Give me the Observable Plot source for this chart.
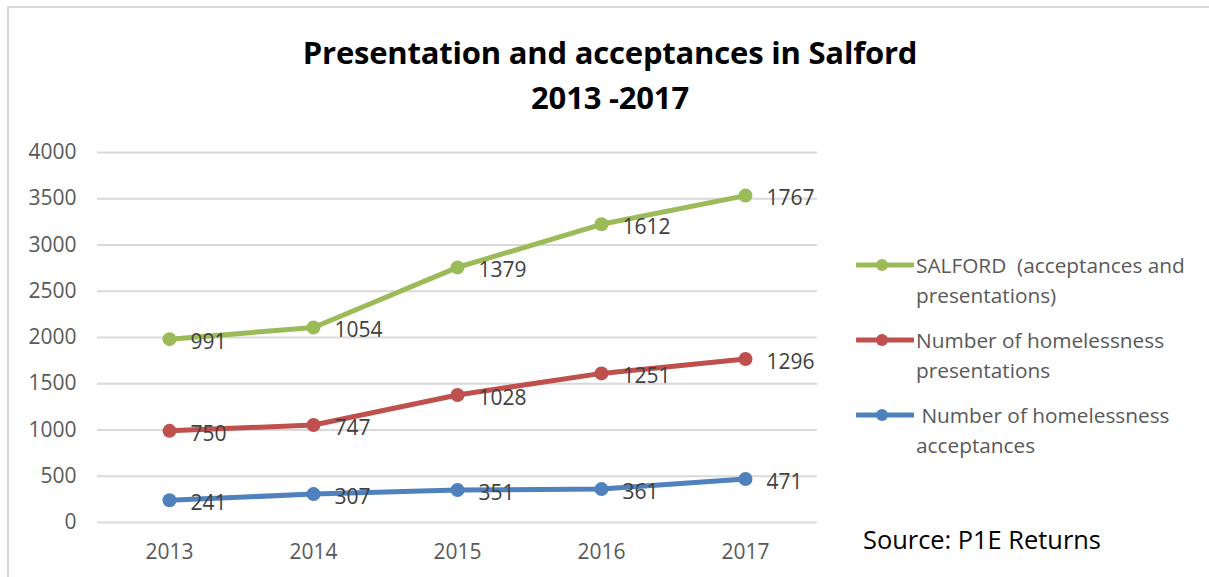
<!DOCTYPE html>
<html>
<head>
<meta charset="utf-8">
<script src="https://cdn.jsdelivr.net/npm/d3@7"></script>
<script src="https://cdn.jsdelivr.net/npm/@observablehq/plot@0.6"></script>
<style>
  html, body { margin: 0; padding: 0; background: #fff; }
  #wrap { position: relative; width: 1209px; height: 577px; overflow: hidden; background: #fff; }
  #frame { position: absolute; left: 7px; top: 6px; width: 1300px; height: 700px; border-left: 2px solid #d9d9d9; border-top: 2px solid #d9d9d9; }
  #title { position: absolute; left: 0; width: 1220px; top: 30px; text-align: center; font-family: "Open Sans", sans-serif; font-weight: bold; font-size: 31px; line-height: 45px; color: #000; letter-spacing: -0.2px; }
  #chart { position: absolute; left: 0; top: 130px; }
  #legend { position: absolute; left: 856px; top: 250px; font-family: "Open Sans", sans-serif; font-size: 20.8px; color: #595959; }
  .item { position: relative; padding-left: 60px; line-height: 30px; margin-bottom: 15px; white-space: nowrap; }
  .item svg { position: absolute; left: 0; top: 6px; }
  #source { position: absolute; left: 863px; top: 522px; font-family: "Open Sans", sans-serif; font-size: 25.4px; color: #000; }
</style>
</head>
<body>
<div id="wrap">
  <div id="frame"></div>
  <div id="title">Presentation and acceptances in Salford<br>2013 -2017</div>
  <div id="chart"></div>
  <div id="legend"></div>
  <div id="source">Source: P1E Returns</div>
</div>
<script>
const years = ["2013", "2014", "2015", "2016", "2017"];
const seriesNames = [
  "Number of homelessness acceptances",
  "Number of homelessness presentations",
  "SALFORD  (acceptances and presentations)"
];
const acceptances = [241, 307, 351, 361, 471];
const presentations = [750, 747, 1028, 1251, 1296];
const salford = [991, 1054, 1379, 1612, 1767];
const colors = ["#4F81BD", "#C0504D", "#9BBB59"];
const yTicks = [0, 500, 1000, 1500, 2000, 2500, 3000, 3500, 4000];

const seriesValues = [acceptances, presentations, salford];
const data = [];
seriesNames.forEach((name, i) => {
  years.forEach((yr, j) => data.push({ year: yr, series: name, value: seriesValues[i][j] }));
});

const font = "Open Sans, sans-serif";
const chart = Plot.plot({
  width: 840,
  height: 440,
  marginLeft: 97,
  marginRight: 23,
  marginTop: 22,
  marginBottom: 48,
  style: { fontFamily: font, fontSize: "21px", color: "#595959", background: "transparent" },
  x: { type: "point", domain: years, padding: 0.5, label: null },
  y: { domain: [0, 4000], label: null },
  color: { domain: seriesNames, range: colors },
  marks: [
    Plot.ruleY(yTicks, { stroke: "#d9d9d9", strokeWidth: 2 }),
    Plot.axisY({ ticks: yTicks, tickFormat: d => String(d), tickSize: 0, tickPadding: 21, label: null, fill: "#595959", fontSize: 21 }),
    Plot.axisX({ tickSize: 0, tickPadding: 22, label: null, fill: "#595959", fontSize: 21 }),
    Plot.lineY(data, Plot.stackY2({ x: "year", y: "value", z: "series", stroke: "series", strokeWidth: 5, order: null })),
    Plot.dot(data, Plot.stackY2({ x: "year", y: "value", z: "series", fill: "series", r: 7, order: null })),
    Plot.text(data, Plot.stackY2({ x: "year", y: "value", z: "series", text: d => String(d.value), textAnchor: "start", dx: 21, dy: 3, fill: "#404040", fontSize: 21, order: null }))
  ]
});
document.getElementById("chart").appendChild(chart);

// Legend (top to bottom: green, red, blue)
const legendItems = [
  { label: "SALFORD&nbsp; (acceptances and<br>presentations)", color: colors[2] },
  { label: "Number of homelessness<br>presentations", color: colors[1] },
  { label: "&nbsp;Number of homelessness<br>acceptances", color: colors[0] }
];
const legend = document.getElementById("legend");
legendItems.forEach(it => {
  const div = document.createElement("div");
  div.className = "item";
  div.innerHTML = `<svg width="58" height="18"><line x1="1" x2="57" y1="9" y2="9" stroke="${it.color}" stroke-width="5" stroke-linecap="round"/><circle cx="26" cy="9" r="6" fill="${it.color}"/></svg>${it.label}`;
  legend.appendChild(div);
});
</script>
</body>
</html>
